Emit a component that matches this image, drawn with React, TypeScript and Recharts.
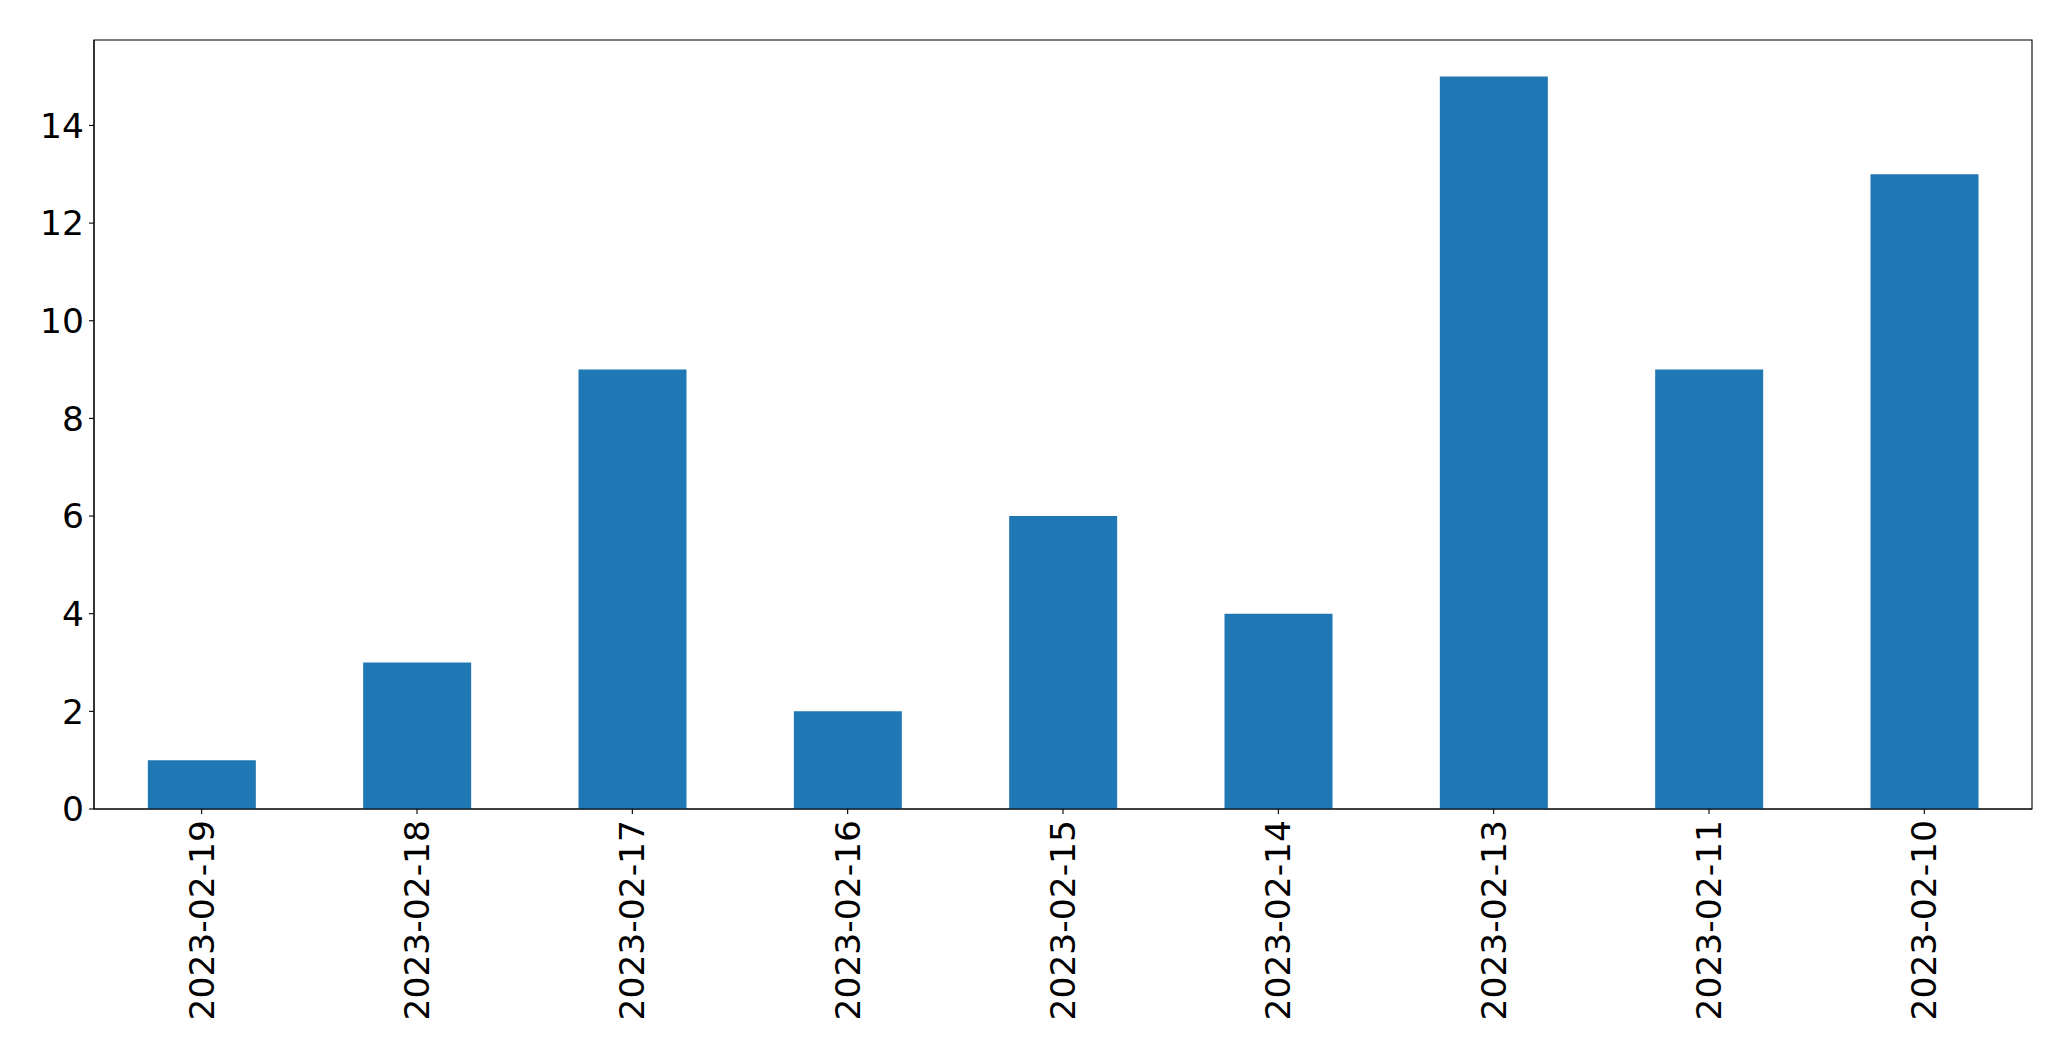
import { BarChart, Bar, XAxis, YAxis, ReferenceArea } from 'recharts';

const dates = [
  '2023-02-19',
  '2023-02-18',
  '2023-02-17',
  '2023-02-16',
  '2023-02-15',
  '2023-02-14',
  '2023-02-13',
  '2023-02-11',
  '2023-02-10',
];
const counts = [1, 3, 9, 2, 6, 4, 15, 9, 13];
const yTicks = [0, 2, 4, 6, 8, 10, 12, 14];

const data = dates.map((d, i) => ({ date: d, count: counts[i] }));

const FONT = '"DejaVu Sans", sans-serif';
const FS = 34.5;

// rotated date labels under the bars
const DateTick = ({ x, y, payload }: any) => (
  <text
    x={0}
    y={0}
    transform={`translate(${x},${y}) rotate(-90)`}
    textAnchor="end"
    dominantBaseline="central"
    fontFamily={FONT}
    fontSize={FS}
    fill="#000"
  >
    {payload.value}
  </text>
);

export default function App() {
  return (
    <div style={{ position: 'absolute', left: 0, top: 0, background: '#fff' }}>
      <BarChart
        width={2071}
        height={1061}
        data={data}
        margin={{ top: 40, right: 39, left: 0, bottom: 0 }}
        barCategoryGap="25%"
      >
        <XAxis
          dataKey="date"
          height={252}
          interval={0}
          tick={<DateTick />}
          tickSize={5}
          tickMargin={6}
          stroke="#000"
          tickLine={{ stroke: '#000', strokeWidth: 1.1 }}
          axisLine={{ stroke: '#000', strokeWidth: 1.1 }}
        />
        <YAxis
          width={94}
          domain={[0, 15.75]}
          ticks={yTicks}
          interval={0}
          tickSize={5}
          tickMargin={5}
          stroke="#000"
          tick={{ fontFamily: FONT, fontSize: FS, fill: '#000' }}
          tickLine={{ stroke: '#000', strokeWidth: 1.1 }}
          axisLine={{ stroke: '#000', strokeWidth: 1.1 }}
        />
        <Bar dataKey="count" fill="#1f77b4" isAnimationActive={false} />
        {/* frame around the plot area */}
        <ReferenceArea y1={0} y2={15.75} fill="none" stroke="#000" strokeWidth={1.1} fillOpacity={0} />
      </BarChart>
    </div>
  );
}
